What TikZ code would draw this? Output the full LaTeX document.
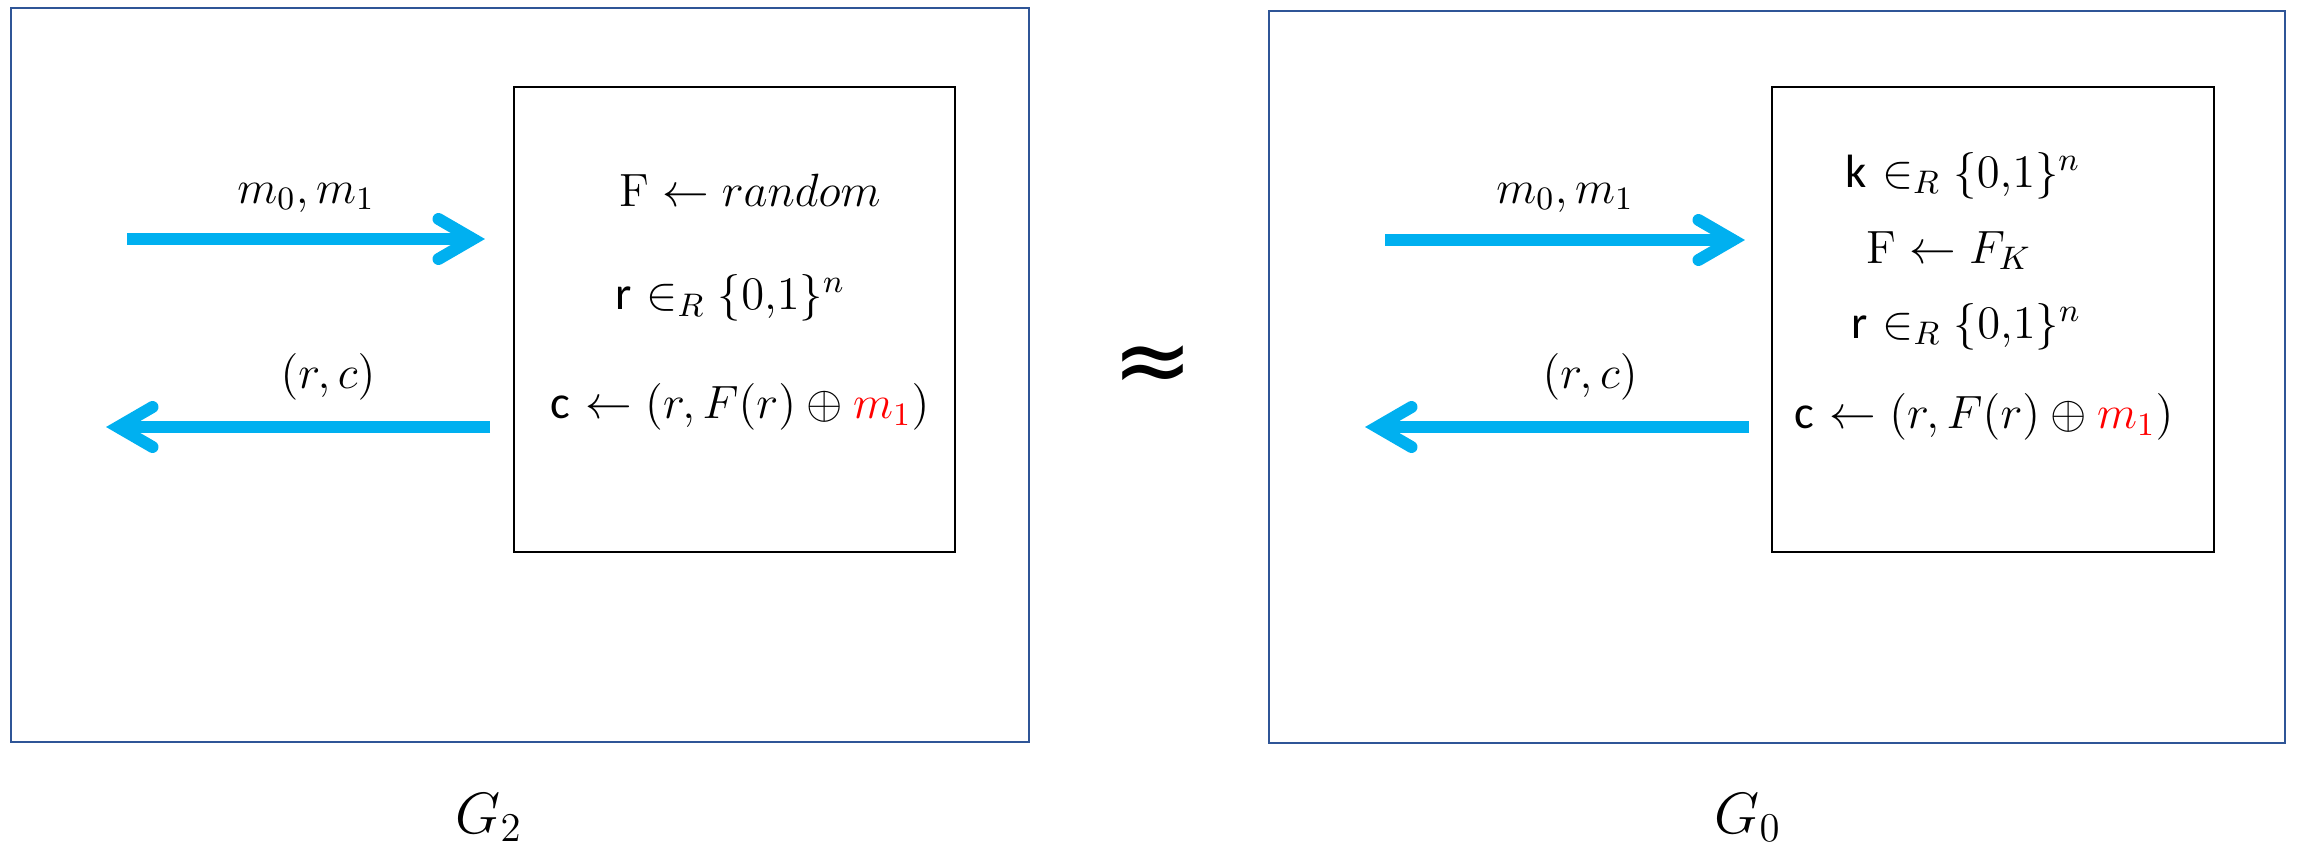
\RequirePackage{fix-cm}
\documentclass[tikz,border=0pt]{standalone}
\usepackage{fontspec}
\newfontfamily\calib{Carlito}
\newfontfamily\dejavu{DejaVu Sans}
\usetikzlibrary{calc}
\definecolor{boxblue}{HTML}{2F5597}
\definecolor{arrblue}{HTML}{00B0F0}
\definecolor{msgred}{HTML}{FF0000}
\tikzset{
  outerbox/.style={draw=boxblue, line width=0.75pt},
  innerbox/.style={draw=black, line width=0.8pt},
  shaft/.style={draw=arrblue, line width=3.6pt, line cap=butt},
  barb/.style={draw=arrblue, line width=3.6pt, line cap=round, line join=miter},
  txt/.style={anchor=base, inner sep=0pt, font=\fontsize{14}{17}\selectfont},
  glabel/.style={anchor=base, inner sep=0pt, font=\fontsize{17.5}{21}\selectfont},
}
\begin{document}
\begin{tikzpicture}[x=0.3pt,y=-0.3pt]
\useasboundingbox (0,0) rectangle (2298,849);

% ---------- left game G2 ----------
\coordinate (LO1) at (11,8);   \coordinate (LO2) at (1029,742);
\coordinate (LI1) at (514,87); \coordinate (LI2) at (955,552);
\draw[outerbox] (LO1) rectangle (LO2);
\draw[innerbox] (LI1) rectangle (LI2);

\node[txt] (l1) at (750,207) {$\mathrm{F} \leftarrow random$};
\node[txt] (l2) at (730,309) {{\calib r} $\in_R \{0{,}1\}^n$};
\node[txt] (l3) at (740,418) {{\calib c} $\leftarrow (r, F(r) \oplus \textcolor{msgred}{m_1})$};

\coordinate (la1s) at (127,239);  \coordinate (la1t) at (473,239);
\coordinate (la2s) at (490,427);  \coordinate (la2t) at (118,427);
\draw[shaft] (la1s) -- (la1t);
\draw[barb] ($(la1t)+(-34.5,-20)$) -- (la1t) -- ($(la1t)+(-34.5,20)$);
\draw[shaft] (la2s) -- (la2t);
\draw[barb] ($(la2t)+(34.5,-20)$) -- (la2t) -- ($(la2t)+(34.5,20)$);

\node[txt] (lm) at (306,203) {$m_0, m_1$};
\node[txt] (lrc) at (328,388) {$(r, c)$};
\node[glabel] (G2) at (489,833) {$G_2$};

% ---------- approx ----------
\node[inner sep=0pt] (approx) at (1153,370) {\dejavu\fontsize{29}{32}\selectfont ≈};

% ---------- right game G0 ----------
\coordinate (RO1) at (1269,11);  \coordinate (RO2) at (2285,743);
\coordinate (RI1) at (1772,87);  \coordinate (RI2) at (2214,552);
\draw[outerbox] (RO1) rectangle (RO2);
\draw[innerbox] (RI1) rectangle (RI2);

\node[txt] (r1) at (1963,187) {{\calib k} $\in_R \{0{,}1\}^n$};
\node[txt] (r2) at (1949,263) {$\mathrm{F} \leftarrow F_K$};
\node[txt] (r3) at (1966,338) {{\calib r} $\in_R \{0{,}1\}^n$};
\node[txt] (r4) at (1984,428) {{\calib c} $\leftarrow (r, F(r) \oplus \textcolor{msgred}{m_1})$};

\coordinate (ra1s) at (1385,240);  \coordinate (ra1t) at (1733,240);
\coordinate (ra2s) at (1749,427);  \coordinate (ra2t) at (1377,427);
\draw[shaft] (ra1s) -- (ra1t);
\draw[barb] ($(ra1t)+(-34.5,-20)$) -- (ra1t) -- ($(ra1t)+(-34.5,20)$);
\draw[shaft] (ra2s) -- (ra2t);
\draw[barb] ($(ra2t)+(34.5,-20)$) -- (ra2t) -- ($(ra2t)+(34.5,20)$);

\node[txt] (rm) at (1565,203) {$m_0, m_1$};
\node[txt] (rrc) at (1590,388) {$(r, c)$};
\node[glabel] (G0) at (1748,833) {$G_0$};
\end{tikzpicture}
\end{document}
